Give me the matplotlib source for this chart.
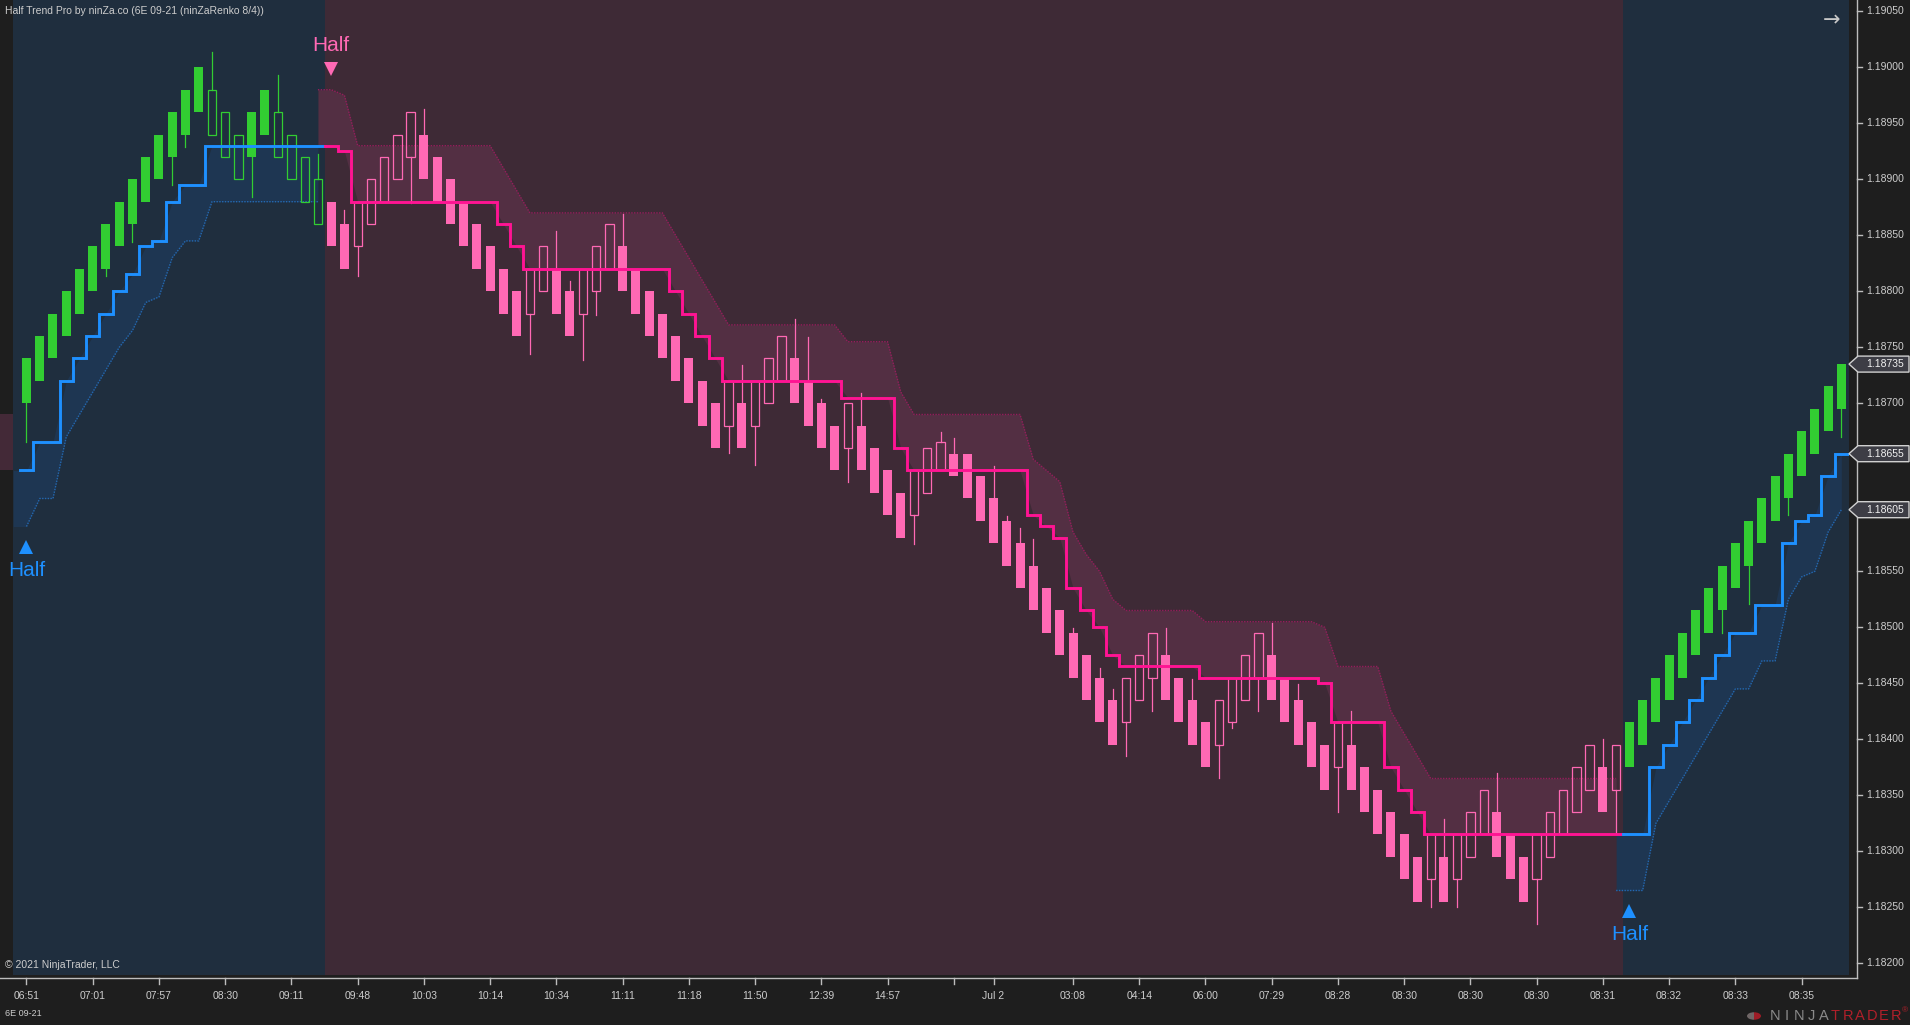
import matplotlib
matplotlib.use("Agg")
import matplotlib.pyplot as plt
from matplotlib.lines import Line2D
from matplotlib.patches import Polygon, Circle, Wedge
from matplotlib.transforms import blended_transform_factory, offset_copy

plt.rcParams['font.family'] = ['Liberation Sans', 'DejaVu Sans']

# ======================
# 1. Renko bars (6E 09-21, ninZaRenko 8/4), bar index 0..137
# ======================
opens = [
    1.18700, 1.18720, 1.18740, 1.18760, 1.18780, 1.18800, 1.18820, 1.18840, 1.18860, 1.18880,
    1.18900, 1.18920, 1.18940, 1.18960, 1.18980, 1.18960, 1.18940, 1.18920, 1.18940, 1.18960,
    1.18940, 1.18920, 1.18900, 1.18880, 1.18860, 1.18840, 1.18860, 1.18880, 1.18900, 1.18920,
    1.18940, 1.18920, 1.18900, 1.18880, 1.18860, 1.18840, 1.18820, 1.18800, 1.18780, 1.18800,
    1.18820, 1.18800, 1.18780, 1.18800, 1.18820, 1.18840, 1.18820, 1.18800, 1.18780, 1.18760,
    1.18740, 1.18720, 1.18700, 1.18680, 1.18700, 1.18680, 1.18700, 1.18720, 1.18740, 1.18720,
    1.18700, 1.18680, 1.18660, 1.18680, 1.18660, 1.18640, 1.18620, 1.18600, 1.18620, 1.18640,
    1.18655, 1.18655, 1.18635, 1.18615, 1.18595, 1.18575, 1.18555, 1.18535, 1.18515, 1.18495,
    1.18475, 1.18455, 1.18435, 1.18415, 1.18435, 1.18455, 1.18475, 1.18455, 1.18435, 1.18415,
    1.18395, 1.18415, 1.18435, 1.18455, 1.18475, 1.18455, 1.18435, 1.18415, 1.18395, 1.18375,
    1.18395, 1.18375, 1.18355, 1.18335, 1.18315, 1.18295, 1.18275, 1.18295, 1.18275, 1.18295,
    1.18315, 1.18335, 1.18315, 1.18295, 1.18275, 1.18295, 1.18315, 1.18335, 1.18355, 1.18375,
    1.18355, 1.18375, 1.18395, 1.18415, 1.18435, 1.18455, 1.18475, 1.18495, 1.18515, 1.18535,
    1.18555, 1.18575, 1.18595, 1.18615, 1.18635, 1.18655, 1.18675, 1.18695,
]
closes = [
    1.18740, 1.18760, 1.18780, 1.18800, 1.18820, 1.18840, 1.18860, 1.18880, 1.18900, 1.18920,
    1.18940, 1.18960, 1.18980, 1.19000, 1.18940, 1.18920, 1.18900, 1.18960, 1.18980, 1.18920,
    1.18900, 1.18880, 1.18860, 1.18840, 1.18820, 1.18880, 1.18900, 1.18920, 1.18940, 1.18960,
    1.18900, 1.18880, 1.18860, 1.18840, 1.18820, 1.18800, 1.18780, 1.18760, 1.18820, 1.18840,
    1.18780, 1.18760, 1.18820, 1.18840, 1.18860, 1.18800, 1.18780, 1.18760, 1.18740, 1.18720,
    1.18700, 1.18680, 1.18660, 1.18720, 1.18660, 1.18720, 1.18740, 1.18760, 1.18700, 1.18680,
    1.18660, 1.18640, 1.18700, 1.18640, 1.18620, 1.18600, 1.18580, 1.18640, 1.18660, 1.18665,
    1.18635, 1.18615, 1.18595, 1.18575, 1.18555, 1.18535, 1.18515, 1.18495, 1.18475, 1.18455,
    1.18435, 1.18415, 1.18395, 1.18455, 1.18475, 1.18495, 1.18435, 1.18415, 1.18395, 1.18375,
    1.18435, 1.18455, 1.18475, 1.18495, 1.18435, 1.18415, 1.18395, 1.18375, 1.18355, 1.18415,
    1.18355, 1.18335, 1.18315, 1.18295, 1.18275, 1.18255, 1.18315, 1.18255, 1.18315, 1.18335,
    1.18355, 1.18295, 1.18275, 1.18255, 1.18315, 1.18335, 1.18355, 1.18375, 1.18395, 1.18335,
    1.18395, 1.18415, 1.18435, 1.18455, 1.18475, 1.18495, 1.18515, 1.18535, 1.18555, 1.18575,
    1.18595, 1.18615, 1.18635, 1.18655, 1.18675, 1.18695, 1.18715, 1.18735,
]
# wick extremes, only for bars that show a wick
wick_high = {
    14: 1.19014, 19: 1.18993, 22: 1.18923, 24: 1.18873, 30: 1.18963, 40: 1.18854,
    41: 1.18809, 45: 1.18869, 54: 1.18734, 58: 1.18775, 59: 1.18759, 60: 1.18704,
    63: 1.18709, 69: 1.18674, 70: 1.18669, 73: 1.18644, 74: 1.18599, 75: 1.18589,
    76: 1.18579, 79: 1.18499, 81: 1.18464, 82: 1.18445, 86: 1.18499, 88: 1.18454,
    94: 1.18504, 96: 1.18449, 100: 1.18425, 107: 1.18329, 111: 1.18370, 119: 1.18400,
}
wick_low = {
    0: 1.18665, 6: 1.18814, 8: 1.18844, 11: 1.18895, 12: 1.18929, 17: 1.18884,
    25: 1.18814, 29: 1.18879, 38: 1.18744, 42: 1.18739, 43: 1.18779, 53: 1.18656,
    55: 1.18645, 62: 1.18630, 67: 1.18574, 83: 1.18385, 85: 1.18425, 90: 1.18365,
    91: 1.18410, 93: 1.18425, 99: 1.18335, 106: 1.18250, 108: 1.18250, 114: 1.18235,
    120: 1.18315, 128: 1.18495, 130: 1.18521, 133: 1.18600, 137: 1.18670,
}

# ======================
# 2. Half Trend line + band edge per trend leg (first value = bar before the leg)
# ======================
up1_start = -1
up1_ht = [
    1.18640, 1.18640, 1.18665, 1.18665, 1.18720, 1.18740, 1.18760, 1.18780, 1.18800, 1.18815,
    1.18840, 1.18845, 1.18880, 1.18895, 1.18895, 1.18930, 1.18930, 1.18930, 1.18930, 1.18930,
    1.18930, 1.18930, 1.18930, 1.18930,
]
up1_band = [
    1.18590, 1.18590, 1.18615, 1.18615, 1.18670, 1.18690, 1.18710, 1.18730, 1.18750, 1.18765,
    1.18790, 1.18795, 1.18830, 1.18845, 1.18845, 1.18880, 1.18880, 1.18880, 1.18880, 1.18880,
    1.18880, 1.18880, 1.18880, 1.18880,
]
dn_start = 22
dn_ht = [
    1.18930, 1.18930, 1.18925, 1.18880, 1.18880, 1.18880, 1.18880, 1.18880, 1.18880, 1.18880,
    1.18880, 1.18880, 1.18880, 1.18880, 1.18860, 1.18840, 1.18820, 1.18820, 1.18820, 1.18820,
    1.18820, 1.18820, 1.18820, 1.18820, 1.18820, 1.18820, 1.18820, 1.18800, 1.18780, 1.18760,
    1.18740, 1.18720, 1.18720, 1.18720, 1.18720, 1.18720, 1.18720, 1.18720, 1.18720, 1.18720,
    1.18705, 1.18705, 1.18705, 1.18705, 1.18660, 1.18640, 1.18640, 1.18640, 1.18640, 1.18640,
    1.18640, 1.18640, 1.18640, 1.18640, 1.18600, 1.18590, 1.18580, 1.18535, 1.18515, 1.18500,
    1.18475, 1.18465, 1.18465, 1.18465, 1.18465, 1.18465, 1.18465, 1.18455, 1.18455, 1.18455,
    1.18455, 1.18455, 1.18455, 1.18455, 1.18455, 1.18455, 1.18450, 1.18415, 1.18415, 1.18415,
    1.18415, 1.18375, 1.18355, 1.18335, 1.18315, 1.18315, 1.18315, 1.18315, 1.18315, 1.18315,
    1.18315, 1.18315, 1.18315, 1.18315, 1.18315, 1.18315, 1.18315, 1.18315, 1.18315,
]
dn_band = [
    1.18980, 1.18980, 1.18975, 1.18930, 1.18930, 1.18930, 1.18930, 1.18930, 1.18930, 1.18930,
    1.18930, 1.18930, 1.18930, 1.18930, 1.18910, 1.18890, 1.18870, 1.18870, 1.18870, 1.18870,
    1.18870, 1.18870, 1.18870, 1.18870, 1.18870, 1.18870, 1.18870, 1.18850, 1.18830, 1.18810,
    1.18790, 1.18770, 1.18770, 1.18770, 1.18770, 1.18770, 1.18770, 1.18770, 1.18770, 1.18770,
    1.18755, 1.18755, 1.18755, 1.18755, 1.18710, 1.18690, 1.18690, 1.18690, 1.18690, 1.18690,
    1.18690, 1.18690, 1.18690, 1.18690, 1.18650, 1.18640, 1.18630, 1.18585, 1.18565, 1.18550,
    1.18525, 1.18515, 1.18515, 1.18515, 1.18515, 1.18515, 1.18515, 1.18505, 1.18505, 1.18505,
    1.18505, 1.18505, 1.18505, 1.18505, 1.18505, 1.18505, 1.18500, 1.18465, 1.18465, 1.18465,
    1.18465, 1.18425, 1.18405, 1.18385, 1.18365, 1.18365, 1.18365, 1.18365, 1.18365, 1.18365,
    1.18365, 1.18365, 1.18365, 1.18365, 1.18365, 1.18365, 1.18365, 1.18365, 1.18365,
]
up2_start = 120
up2_ht = [
    1.18315, 1.18315, 1.18315, 1.18375, 1.18395, 1.18415, 1.18435, 1.18455, 1.18475, 1.18495,
    1.18495, 1.18520, 1.18520, 1.18575, 1.18595, 1.18600, 1.18635, 1.18655,
]
up2_band = [
    1.18265, 1.18265, 1.18265, 1.18325, 1.18345, 1.18365, 1.18385, 1.18405, 1.18425, 1.18445,
    1.18445, 1.18470, 1.18470, 1.18525, 1.18545, 1.18550, 1.18585, 1.18605,
]
# tail of the previous down leg, left of the first bar
dn0_start = -2
dn0_ht = [1.18640, 1.18640]
dn0_band = [1.18690, 1.18690]

signal_bars = [0, 23, 121]

# time axis
tick_bars = [0, 5, 10, 15, 20, 25, 30, 35, 40, 45, 50, 55, 60, 65, 70, 73,
             79, 84, 89, 94, 99, 104, 109, 114, 119, 124, 129, 134]
tick_labels = ['06:51', '07:01', '07:57', '08:30', '09:11', '09:48', '10:03', '10:14',
               '10:34', '11:11', '11:18', '11:50', '12:39', '14:57', '', 'Jul 2',
               '03:08', '04:14', '06:00', '07:29', '08:28', '08:30', '08:30', '08:30',
               '08:31', '08:32', '08:33', '08:35']
price_ticks = [1.18200, 1.18250, 1.18300, 1.18350, 1.18400, 1.18450, 1.18500, 1.18550, 1.18600,
               1.18650, 1.18700, 1.18750, 1.18800, 1.18850, 1.18900, 1.18950, 1.19000, 1.19050]

# ======================
# 3. Colours / layout
# ======================
BG = '#1e1e1e'
BLUE_BG = '#1f2e3e'
PINK_BG = '#3e2a36'
BLUE_BAND = '#1e3652'
PINK_BAND = '#532f43'
GREEN = '#32cd32'
PINK = '#ff69b4'
HT_BLUE = '#1e90ff'
HT_PINK = '#ff1493'
DOT_BLUE = '#2468b0'
DOT_PINK = '#951d5c'
TXT = '#cdcdcd'

W, H = 1910, 1025


def fx(px):
    return px / W


def fy(py):
    return 1 - py / H


fig = plt.figure(figsize=(W / 100, H / 100), dpi=100, facecolor=BG)
ax = fig.add_axes([fx(13), fy(975), fx(1849) - fx(13), 975 / H])
ax.set_axis_off()
ax.set_xlim(-1.019, 137.578)
ax.set_ylim(1.1818955, 1.1906009)

# trend backgrounds
ax.axvspan(-1.5, 22.5, color=BLUE_BG, lw=0, zorder=0)
ax.axvspan(22.5, 120.5, color=PINK_BG, lw=0, zorder=0)
ax.axvspan(120.5, 138.5, color=BLUE_BG, lw=0, zorder=0)

# ======================
# 4. Bands, dotted edges and the Half Trend step line
# ======================
legs = [
    (dn0_start, dn0_ht, dn0_band, PINK_BAND, DOT_PINK, None),
    (up1_start, up1_ht, up1_band, BLUE_BAND, DOT_BLUE, HT_BLUE),
    (dn_start, dn_ht, dn_band, PINK_BAND, DOT_PINK, HT_PINK),
    (up2_start, up2_ht, up2_band, BLUE_BAND, DOT_BLUE, HT_BLUE),
]
for start, ht, band, fill_c, dot_c, line_c in legs:
    xs = list(range(start, start + len(ht)))
    clip = start >= -1
    ax.fill_between(xs, ht, band, color=fill_c, lw=0, zorder=1, clip_on=clip,
                    alpha=1.0 if clip else 0.7)
    if line_c is None:
        continue
    skip = 1 if start == -1 else 0
    ax.plot(xs[skip:], band[skip:], color=dot_c, lw=1.0, ls=(0, (1, 1)), zorder=2)
    sx, sy = [], []
    for i, v in zip(xs[1:], ht[1:]):
        sx += [i - 0.5, i + 0.5]
        sy += [v, v]
    ax.plot(sx, sy, color=line_c, lw=2.1, zorder=5, solid_joinstyle='miter')

# ======================
# 5. Candles
# ======================
BODY_W = 0.68
for i, (o, c) in enumerate(zip(opens, closes)):
    uptrend = i <= 22 or i >= 121
    col = GREEN if uptrend else PINK
    filled = (c > o) == uptrend
    lo, hi = min(o, c), max(o, c)
    if filled:
        ax.bar(i, hi - lo, bottom=lo, width=BODY_W, color=col, lw=0, zorder=3)
    else:
        ax.bar(i, hi - lo, bottom=lo, width=BODY_W - 0.05, facecolor='none',
               edgecolor=col, lw=0.9, zorder=3)
    if i in wick_high:
        ax.plot([i, i], [hi, wick_high[i]], color=col, lw=0.9, zorder=3)
    if i in wick_low:
        ax.plot([i, i], [wick_low[i], lo], color=col, lw=0.9, zorder=3)

# ======================
# 6. Half signals
# ======================
for b in signal_bars:
    if b == 23:
        ref = dn_band[b - dn_start]
        col_m, mk, sgn = PINK, 'v', 1
    elif b == 0:
        ref = up1_band[b - up1_start]
        col_m, mk, sgn = HT_BLUE, '^', -1
    else:
        ref = up2_band[b - up2_start]
        col_m, mk, sgn = HT_BLUE, '^', -1
    tr_m = offset_copy(ax.transData, fig=fig, x=0, y=sgn * 21, units='dots')
    ax.plot([b], [ref], marker=mk, color=col_m, ms=9.5, mew=0, transform=tr_m,
            zorder=6, clip_on=False)
    tr_t = offset_copy(ax.transData, fig=fig, x=0, y=sgn * 44, units='dots')
    ax.text(b, ref, 'Half', color=col_m, fontsize=15, ha='center', va='center',
            transform=tr_t, zorder=6, clip_on=False)

# ======================
# 7. Axes, labels and decorations
# ======================
fig.add_artist(Line2D([fx(0), fx(1857)], [fy(978), fy(978)], color='#bdbdbd', lw=1.0))
fig.add_artist(Line2D([fx(1857), fx(1857)], [fy(0), fy(978)], color='#bdbdbd', lw=1.0))

tr_x = blended_transform_factory(ax.transData, fig.transFigure)
for b, lab in zip(tick_bars, tick_labels):
    fig.add_artist(Line2D([b, b], [fy(978), fy(984)], color='#bdbdbd', lw=1.0,
                          transform=tr_x))
    fig.text(b, fy(996), lab, transform=tr_x, color=TXT, fontsize=7.5,
             ha='center', va='center')

# price markers on the right axis (they cover the tick labels underneath)
marker_vals = [closes[-1], up2_ht[-1], up2_band[-1]]
y0, y1 = ax.get_ylim()
half_h = 8 * (y1 - y0) / 975

tr_y = blended_transform_factory(fig.transFigure, ax.transData)
for p in price_ticks:
    fig.add_artist(Line2D([fx(1857), fx(1862)], [p, p], color='#bdbdbd', lw=1.0,
                          transform=tr_y))
    if any(abs(p - v) < 1.6 * half_h for v in marker_vals):
        continue
    fig.text(fx(1866), p, f'{p:.5f}', transform=tr_y, color=TXT, fontsize=7.5,
             ha='left', va='center')

for val in marker_vals:
    pts = [(fx(1849), val), (fx(1858), val + half_h), (fx(1909), val + half_h),
           (fx(1909), val - half_h), (fx(1858), val - half_h)]
    fig.add_artist(Polygon(pts, closed=True, transform=tr_y, facecolor='#3d3d45',
                           edgecolor='#d0d0d0', lw=1.0, zorder=10))
    fig.text(fx(1866), val, f'{val:.5f}', transform=tr_y, color='#f2f2f2',
             fontsize=7.5, ha='left', va='center', zorder=11)

fig.text(fx(5), fy(11), 'Half Trend Pro by ninZa.co (6E 09-21 (ninZaRenko 8/4))',
         color=TXT, fontsize=7.5, ha='left', va='center')
fig.text(fx(5), fy(965), '\u00a9 2021 NinjaTrader, LLC', color=TXT, fontsize=7.5,
         ha='left', va='center')
fig.text(fx(5), fy(1013), '6E 09-21', color=TXT, fontsize=6.5, ha='left', va='center')
fig.text(fx(1832), fy(20), '\u2192', color='#c8c8c8', fontsize=15, ha='center',
         va='center', family='DejaVu Sans')

# NinjaTrader logo
logo_c = (fx(1754), fy(1016))
fig.add_artist(Wedge(logo_c, 7 / W, 90, 270, transform=fig.transFigure,
                     facecolor='#6f6666', lw=0))
fig.add_artist(Wedge(logo_c, 7 / W, 270, 90, transform=fig.transFigure,
                     facecolor='#9e1c26', lw=0))
for k, ch in enumerate('NINJATRADER'):
    fig.text(fx(1775 + 12.1 * k), fy(1016), ch, color='#8a8a8a' if k < 5 else '#b0202a',
             fontsize=10.5, ha='center', va='center')
fig.text(fx(1905), fy(1011), '\u00ae', color='#b0202a', fontsize=6, ha='center', va='center')

fig.savefig('out.png', dpi=100, facecolor=BG)
